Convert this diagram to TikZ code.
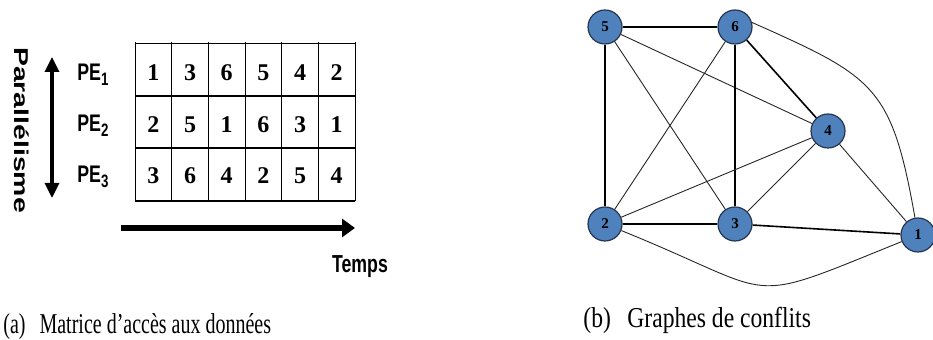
\documentclass[tikz,border=0pt]{standalone}
\usepackage{fontspec}
\setmainfont{Liberation Serif}
\setsansfont{Liberation Sans}
\usepackage{graphicx}
\usetikzlibrary{arrows.meta}
\definecolor{nodeblue}{RGB}{79,129,189}
\definecolor{nodeline}{RGB}{38,52,78}
\newcommand{\hsq}[2]{\scalebox{#1}[1]{#2}}
\tikzset{
    cell/.style={font=\fontsize{12}{12}\selectfont\bfseries, inner sep=0pt},
    pe/.style={font=\fontsize{12}{12}\selectfont\sffamily\bfseries, inner sep=0pt, anchor=base west},
    axislabel/.style={font=\sffamily\bfseries, inner sep=0pt},
    vertex/.style={circle, draw=nodeline, fill=nodeblue, line width=0.6pt, minimum size=17pt, inner sep=0pt, font=\fontsize{7.5}{8}\selectfont\bfseries},
    edge/.style={line width=0.45pt, black!85},
    strong/.style={line width=0.8pt, black},
    caption/.style={inner sep=0pt, anchor=base west}
}

\begin{document}
\begin{tikzpicture}[x=0.5pt, y=0.5pt]
    \useasboundingbox (0,0) rectangle (933,-340);

    % Access matrix grid
    \draw[line width=0.5pt] (135,-44) -- (355,-44);
    \foreach \y in {96,148,201}
        \draw[line width=1pt] (135,-\y) -- (355,-\y);
    \foreach \i in {0,...,6}
        \draw[line width=0.5pt] ({135+36.67*\i},-42) -- ({135+36.67*\i},-201);

    % Matrix cells
    \foreach \v [count=\c] in {1,3,6,5,4,2}
        \node[cell] (r1c\c) at ({135+36.67*(\c-0.5)},-73) {\v};
    \foreach \v [count=\c] in {2,5,1,6,3,1}
        \node[cell] (r2c\c) at ({135+36.67*(\c-0.5)},-124.5) {\v};
    \foreach \v [count=\c] in {3,6,4,2,5,4}
        \node[cell] (r3c\c) at ({135+36.67*(\c-0.5)},-176) {\v};

    % Processing elements
    \node[pe] (pe1) at (77,-81) {\hsq{0.74}{PE\textsubscript{\fontsize{9}{9}\selectfont 1}}};
    \node[pe] (pe2) at (77,-132) {\hsq{0.74}{PE\textsubscript{\fontsize{9}{9}\selectfont 2}}};
    \node[pe] (pe3) at (77,-183) {\hsq{0.74}{PE\textsubscript{\fontsize{9}{9}\selectfont 3}}};

    % Axes
    \node[axislabel, rotate=-90, font=\fontsize{10}{10}\selectfont\sffamily\bfseries] (para) at (21.5,-130) {\hsq{1.42}{Parallélisme}};
    \coordinate (ptop) at (52,-57);
    \coordinate (pbot) at (52,-198);
    \draw[line width=1.65pt, {Triangle[width=7pt,length=7.5pt]}-{Triangle[width=7pt,length=7.5pt]}] (ptop) -- (pbot);

    \coordinate (tstart) at (121,-228);
    \coordinate (tend) at (355,-228);
    \draw[line width=3.3pt, -{Triangle[width=9pt,length=6.5pt]}] (tstart) -- (tend);
    \node[axislabel, anchor=base, font=\fontsize{12.3}{13}\selectfont\sffamily\bfseries] (temps) at (360,-273) {\hsq{0.72}{Temps}};

    % Conflict graph
    \node[vertex] (v1) at (918,-235) {1};
    \node[vertex] (v2) at (605,-224) {2};
    \node[vertex] (v3) at (735,-224) {3};
    \node[vertex] (v4) at (828,-131) {4};
    \node[vertex] (v5) at (605,-27) {5};
    \node[vertex] (v6) at (735,-27) {6};

    \draw[strong] (v5) -- (v6);
    \draw[strong] (v5) -- (v2);
    \draw[edge] (v5) -- (v4);
    \draw[edge] (v5) -- (v3);
    \draw[edge] (v6) -- (v2);
    \draw[strong] (v6) -- (v3);
    \draw[strong] (v6) -- (v4);
    \draw[edge] (v4) -- (v2);
    \draw[edge] (v4) -- (v3);
    \draw[edge] (v4) -- (v1);
    \draw[strong] (v2) -- (v3);
    \draw[strong] (v3) -- (v1);
    \draw[edge] (v6.15) to[out=-24, in=100, looseness=1.35] (v1);
    \draw[edge] (v2) to[out=-22, in=-158, looseness=1.6] (v1);

    % Captions
    \node[caption] (capa) at (3,-334) {\fontsize{10}{12}\selectfont\scalebox{1}[1.435]{(a)\hspace{0.7em}Matrice d’accès aux données}};
    \node[caption] (capb) at (583,-328) {\fontsize{11.8}{14}\selectfont\scalebox{1}[1.22]{(b)\hspace{0.7em}Graphes de conflits}};
\end{tikzpicture}
\end{document}
